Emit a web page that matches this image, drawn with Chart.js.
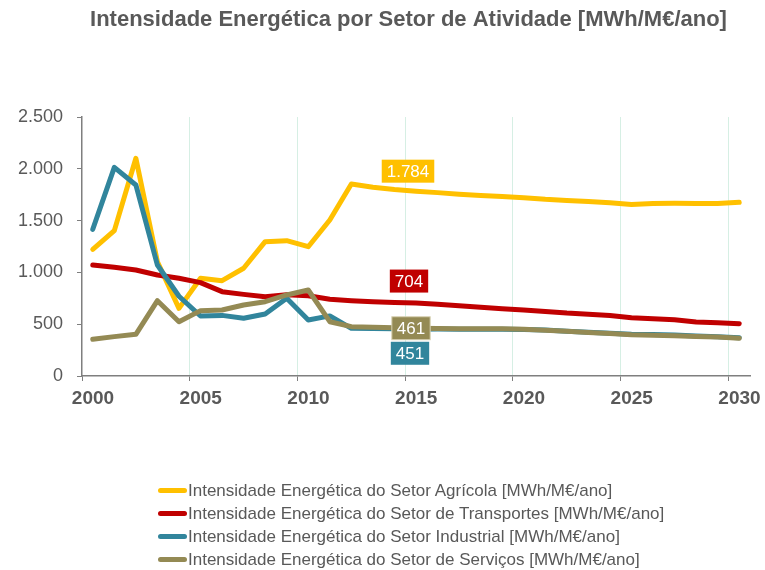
<!DOCTYPE html>
<html>
<head>
<meta charset="utf-8">
<script src="https://cdn.jsdelivr.net/npm/chart.js@4.4.1/dist/chart.umd.min.js"></script>
<style>
  html, body { margin: 0; padding: 0; background: #fff; }
  #wrap { position: relative; width: 765px; height: 570px; }
  #legend { position: absolute; left: 158px; top: 479px; font-family: "Liberation Sans", Arial, sans-serif;
            font-size: 17px; color: #595959; }
  .row { height: 23px; display: flex; align-items: center; white-space: nowrap; }
  .sw { width: 29px; height: 5px; border-radius: 3px; margin-right: 1px; }
</style>
</head>
<body>
<div id="wrap">
  <canvas id="c" width="765" height="570"></canvas>
  <div id="legend"></div>
</div>
<script>
const years = [2000, 2001, 2002, 2003, 2004, 2005, 2006, 2007, 2008, 2009,
               2010, 2011, 2012, 2013, 2014, 2015, 2016, 2017, 2018, 2019,
               2020, 2021, 2022, 2023, 2024, 2025, 2026, 2027, 2028, 2029, 2030];
const tickYears = [2000, 2005, 2010, 2015, 2020, 2025, 2030];

const agricola = [1223, 1403, 2101, 1103, 653, 943, 920, 1040, 1297, 1306,
                  1248, 1506, 1853, 1821, 1800, 1784, 1770, 1755, 1742, 1732,
                  1720, 1705, 1695, 1685, 1672, 1655, 1665, 1667, 1666, 1665, 1676];
const transportes = [1071, 1049, 1023, 975, 943, 901, 814, 788, 766, 785,
                     775, 740, 727, 717, 710, 704, 692, 679, 663, 650,
                     637, 622, 607, 597, 585, 562, 552, 542, 522, 514, 505];
const industrial = [1416, 2014, 1844, 1071, 770, 579, 585, 557, 598, 750,
                    541, 580, 460, 458, 455, 451, 453, 452, 452, 451,
                    449, 443, 433, 423, 413, 403, 401, 396, 386, 378, 370];
const servicos = [354, 380, 402, 727, 524, 631, 637, 685, 717, 782,
                  830, 524, 476, 470, 465, 461, 458, 456, 455, 455,
                  452, 442, 432, 420, 410, 398, 394, 389, 381, 376, 364];

const titleText = 'Intensidade Energética por Setor de Atividade [MWh/M€/ano]';
const seriesNames = [
  'Intensidade Energética do Setor Agrícola [MWh/M€/ano]',
  'Intensidade Energética do Setor de Transportes [MWh/M€/ano]',
  'Intensidade Energética do Setor Industrial [MWh/M€/ano]',
  'Intensidade Energética do Setor de Serviços [MWh/M€/ano]'
];
const colors = ['#FFC000', '#C00000', '#31859C', '#948A54'];
const labelYear = 2015;

const fmt = v => String(v).replace(/\B(?=(\d{3})+(?!\d))/g, '.');
const toPoints = vals => years.map((yr, i) => ({x: yr + 0.5, y: vals[i]}));

// rótulos de dados no ano 2015 (offsets em px)
const labelOffsets = [[-8, -20], [-7, -22], [-6, 24], [-5, 0]];

const dataLabels = {
  id: 'dataLabels',
  afterDatasetsDraw(chart) {
    const ctx = chart.ctx;
    const idx = years.indexOf(labelYear);
    ctx.save();
    ctx.font = '17px "Liberation Sans", Arial, sans-serif';
    ctx.textAlign = 'center';
    ctx.textBaseline = 'middle';
    chart.data.datasets.forEach((ds, i) => {
      const pt = chart.getDatasetMeta(i).data[idx];
      const txt = fmt(ds.data[idx].y);
      const w = ctx.measureText(txt).width + 10;
      const h = 23;
      const cx = pt.x + labelOffsets[i][0];
      const cy = pt.y + labelOffsets[i][1];
      ctx.fillStyle = colors[i];
      ctx.fillRect(cx - w / 2, cy - h / 2, w, h);
      if (i === 3) {
        ctx.strokeStyle = '#d8d2b4';
        ctx.lineWidth = 1;
        ctx.strokeRect(cx - w / 2, cy - h / 2, w, h);
      }
      ctx.fillStyle = '#fff';
      ctx.fillText(txt, cx, cy + 1);
    });
    ctx.restore();
  }
};

// título desenhado à mão (o do Excel não está centrado no canvas)
const chartTitle = {
  id: 'chartTitle',
  afterDraw(chart) {
    const ctx = chart.ctx;
    ctx.save();
    ctx.font = 'bold 22px "Liberation Sans", Arial, sans-serif';
    ctx.fillStyle = '#595959';
    ctx.textAlign = 'center';
    ctx.textBaseline = 'middle';
    ctx.fillText(titleText, 408.5, 20);
    ctx.restore();
  }
};

const chart = new Chart(document.getElementById('c'), {
  type: 'line',
  data: {
    datasets: [agricola, transportes, industrial, servicos].map((vals, i) => ({
      label: seriesNames[i],
      data: toPoints(vals),
      borderColor: colors[i],
      backgroundColor: colors[i],
      borderWidth: 5,
      borderCapStyle: 'round',
      borderJoinStyle: 'round',
      pointRadius: 0,
      tension: 0,
      order: 4 - i
    }))
  },
  options: {
    responsive: false,
    animation: false,
    layout: { padding: { top: 117, right: 15, bottom: 154, left: 0 } },
    plugins: {
      legend: { display: false },
      tooltip: { enabled: false },
      title: { display: false }
    },
    scales: {
      x: {
        type: 'linear',
        min: 2000,
        max: 2031,
        afterBuildTicks: s => { s.ticks = tickYears.map(v => ({value: v})); },
        afterFit: s => { s.height = 40; },
        ticks: {
          callback: v => String(v),
          color: '#595959',
          padding: 6,
          labelOffset: 11,
          maxRotation: 0,
          font: { family: '"Liberation Sans", Arial, sans-serif', size: 19, weight: 'bold' }
        },
        grid: {
          color: ctx => ctx.tick && ctx.tick.value === 2000 ? 'rgba(0,0,0,0)' : '#d6efe4',
          tickColor: '#7f7f7f',
          tickLength: 5,
          lineWidth: 1
        },
        border: { color: '#7f7f7f', width: 1.5 }
      },
      y: {
        min: 0,
        max: 2500,
        afterFit: s => { s.width = 82; },
        ticks: {
          stepSize: 500,
          callback: v => fmt(v),
          color: '#595959',
          padding: 14,
          font: { family: '"Liberation Sans", Arial, sans-serif', size: 18 }
        },
        grid: { drawOnChartArea: false, tickColor: '#7f7f7f', tickLength: 5 },
        border: { color: '#7f7f7f', width: 1.5 }
      }
    }
  },
  plugins: [dataLabels, chartTitle]
});

const legend = document.getElementById('legend');
seriesNames.forEach((name, i) => {
  const row = document.createElement('div');
  row.className = 'row';
  const sw = document.createElement('span');
  sw.className = 'sw';
  sw.style.background = colors[i];
  const t = document.createElement('span');
  t.textContent = name;
  row.appendChild(sw);
  row.appendChild(t);
  legend.appendChild(row);
});
</script>
</body>
</html>
